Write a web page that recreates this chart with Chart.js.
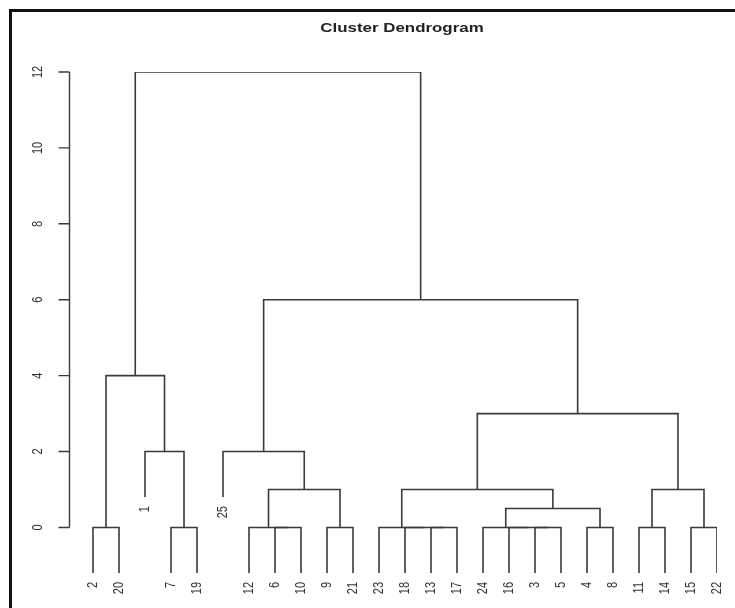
<!DOCTYPE html>
<html>
<head>
<meta charset="utf-8">
<title>Cluster Dendrogram</title>
<script src="https://cdn.jsdelivr.net/npm/chart.js@4.4.1/dist/chart.umd.min.js"></script>
<style>
    html, body { margin: 0; padding: 0; background: #fff; }
    #wrap { position: relative; width: 735px; height: 608px; overflow: hidden; }
</style>
</head>
<body>
<div id="wrap"><canvas id="dendro" width="735" height="608"></canvas></div>
<script>
// leaves from left to right
const leafLabels = ['2', '20', '1', '7', '19', '25', '12', '6', '10', '9', '21', '23', '18', '13', '17', '24', '16', '3', '5', '4', '8', '11', '14', '15', '22'];

// merges like hclust: negative = observation number, positive = earlier merge step
const mergeLeft = [-2, -7, -1, 1, -6, -12, -9, 6, -25, -13, -18, -23, -3, -16, -24, -4, 15, 12, -11, -15, 19, 18, 9, 4];
const mergeRight = [-20, -19, 2, 3, -10, 5, -21, 7, 8, -17, 10, 11, -5, 13, 14, -8, 16, 17, -14, -22, 20, 21, 22, 23];
const mergeHeight = [0, 0, 2, 4, 0, 0, 0, 1, 2, 0, 0, 0, 0, 0, 0, 0, 0.5, 1, 0, 0, 1, 3, 6, 12];

const yTicks = [0, 2, 4, 6, 8, 10, 12];
const hang = 1.2;

const lineColor = '#3a3a3a';

// x position and height of every node
function nodeInfo(ref, info) {
    if (ref < 0) {
        return { x: leafLabels.indexOf(String(-ref)), h: null };
    }
    return info[ref - 1];
}

function buildSegments() {
    const info = [];
    const sets = [];
    for (let i = 0; i < mergeHeight.length; i++) {
        const h = mergeHeight[i];
        const a = nodeInfo(mergeLeft[i], info);
        const b = nodeInfo(mergeRight[i], info);
        const aBottom = a.h === null ? h - hang : a.h;
        const bBottom = b.h === null ? h - hang : b.h;
        sets.push({
            data: [
                { x: a.x, y: aBottom },
                { x: a.x, y: h },
                { x: b.x, y: h },
                { x: b.x, y: bBottom }
            ],
            showLine: true,
            borderColor: lineColor,
            borderWidth: 1.6,
            pointRadius: 0,
            fill: false,
            tension: 0
        });
        info.push({ x: (a.x + b.x) / 2, h: h });
    }
    return sets;
}

// leaf bottom height for each leaf (for its label)
function leafBottoms() {
    const out = {};
    for (let i = 0; i < mergeHeight.length; i++) {
        [mergeLeft[i], mergeRight[i]].forEach(r => {
            if (r < 0) out[String(-r)] = mergeHeight[i] - hang;
        });
    }
    return out;
}

// rotated label, a bit wider like the source picture
function drawRotated(ctx, text, px, py, align) {
    ctx.save();
    ctx.translate(px, py);
    ctx.scale(1.3, 1);
    ctx.rotate(-Math.PI / 2);
    ctx.textAlign = align;
    ctx.textBaseline = 'middle';
    ctx.fillText(text, 0, 0);
    ctx.restore();
}

const framePlugin = {
    id: 'frame',
    beforeDraw(chart) {
        const { ctx } = chart;
        ctx.save();
        ctx.fillStyle = '#fff';
        ctx.fillRect(0, 0, chart.width, chart.height);
        ctx.strokeStyle = '#111';
        ctx.lineWidth = 3;
        ctx.beginPath();
        ctx.moveTo(10.5, chart.height);
        ctx.lineTo(10.5, 10.5);
        ctx.lineTo(chart.width, 10.5);
        ctx.stroke();
        ctx.restore();
    }
};

const decorPlugin = {
    id: 'decor',
    afterDraw(chart) {
        const { ctx, scales: { x, y } } = chart;
        ctx.save();

        // title
        ctx.font = 'bold 13px "Liberation Sans", Arial, sans-serif';
        ctx.fillStyle = '#222';
        ctx.textAlign = 'center';
        ctx.textBaseline = 'middle';
        ctx.save();
        ctx.translate(402, 28);
        ctx.scale(1.3, 1);
        ctx.fillText('Cluster Dendrogram', 0, 0);
        ctx.restore();

        // y axis
        const ax = 69.5;
        ctx.strokeStyle = lineColor;
        ctx.lineWidth = 1.4;
        ctx.beginPath();
        ctx.moveTo(ax, y.getPixelForValue(0));
        ctx.lineTo(ax, y.getPixelForValue(12));
        yTicks.forEach(t => {
            const py = y.getPixelForValue(t);
            ctx.moveTo(ax, py);
            ctx.lineTo(ax - 11, py);
        });
        ctx.stroke();

        ctx.font = '11px "Liberation Sans", Arial, sans-serif';
        ctx.fillStyle = '#333';
        yTicks.forEach(t => {
            drawRotated(ctx, String(t), 38, y.getPixelForValue(t), 'center');
        });

        // leaf labels
        const bottoms = leafBottoms();
        leafLabels.forEach((lab, i) => {
            const px = x.getPixelForValue(i);
            const py = y.getPixelForValue(bottoms[lab]) + 9;
            drawRotated(ctx, lab, px, py, 'right');
        });

        ctx.restore();
    }
};

new Chart(document.getElementById('dendro').getContext('2d'), {
    type: 'scatter',
    data: { datasets: buildSegments() },
    options: {
        responsive: false,
        animation: false,
        layout: { padding: { left: 70, right: 18, top: 72, bottom: 35 } },
        plugins: {
            legend: { display: false },
            tooltip: { enabled: false }
        },
        scales: {
            x: { type: 'linear', display: false, min: -0.885, max: 24 },
            y: { type: 'linear', display: false, min: -hang, max: 12 }
        }
    },
    plugins: [framePlugin, decorPlugin]
});
</script>
</body>
</html>
